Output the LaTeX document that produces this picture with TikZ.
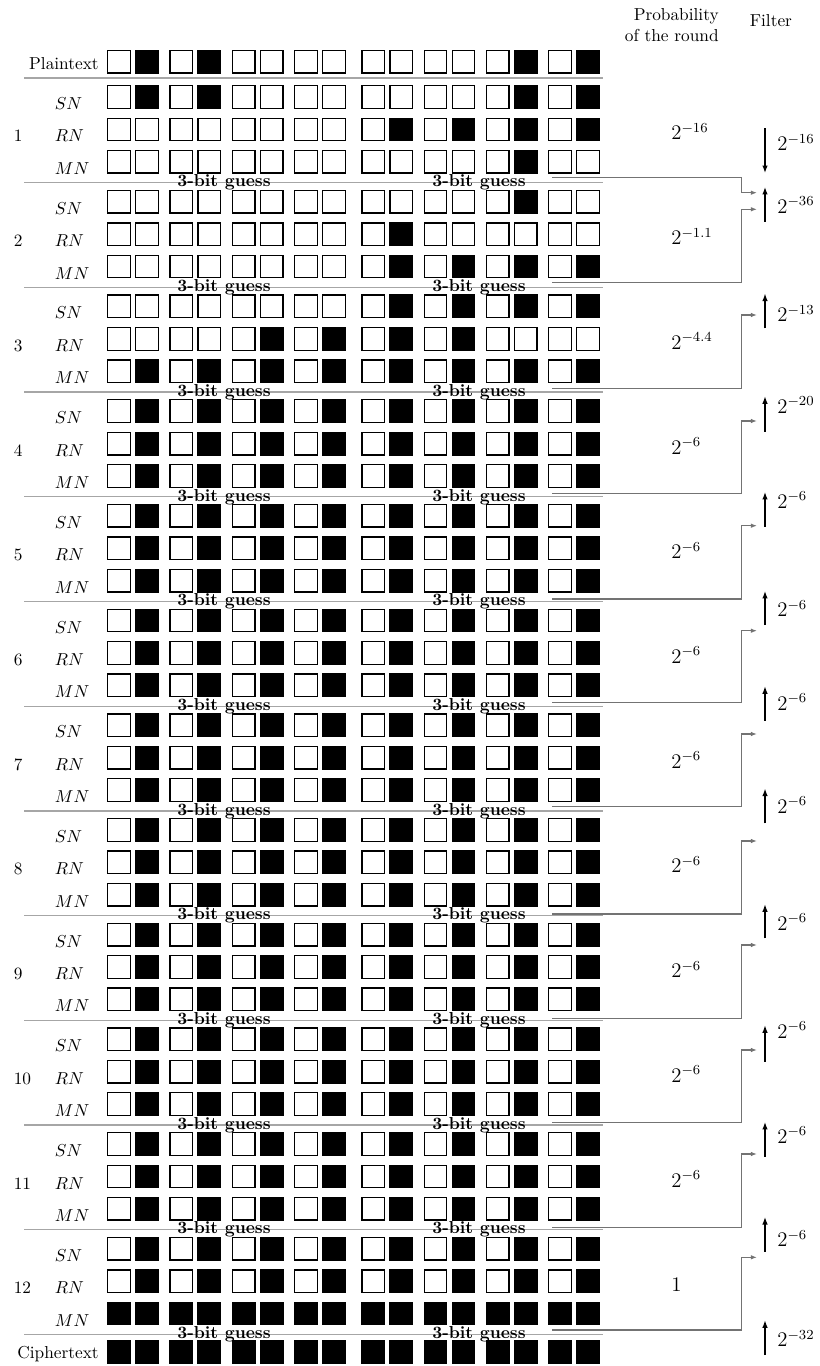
\documentclass[tikz,border=0pt]{standalone}
\usepackage{amsmath,amssymb}
\usepackage{tikz}
\usetikzlibrary{arrows.meta}

% one row of 16 bits, two groups of four pairs
\newcommand\bitrow[3]{%
  \foreach \b [count=\i from 0] in {#3}{%
    \pgfmathsetmacro\cx{119+62.3*int(\i/2)+28*mod(\i,2)+5*int(\i/8)}%
    \node[bit\b] (#1-\i) at (\cx,#2) {};
  }}

\begin{document}
\begin{tikzpicture}[
    x=0.578pt, y=-0.578pt,
    every node/.style={inner sep=0pt},
    bit0/.style={draw=black, line width=0.75pt, fill=white, minimum width=13.1pt, minimum height=13.1pt},
    bit1/.style={bit0, fill=black},
    sepline/.style={black!35, line width=0.7pt},
    guess/.style={font=\bfseries},
    val/.style={font=\large, anchor=base west},
    filt/.style={-{Latex[length=4.5pt,width=3.2pt]}, line width=1.1pt},
    gline/.style={-{Latex[length=3.5pt,width=2.6pt]}, black!55, line width=0.75pt}
  ]
    \useasboundingbox (0,0) rectangle (819,1366);

    % header
    \node[anchor=north east, align=right] (prob) at (719,8.5) {Probability\\of the round};
    \node[anchor=base west] (filter) at (749.5,27) {Filter};

    % plaintext / ciphertext
    \node[anchor=base east] (ptl) at (99,69.5) {Plaintext};
    \bitrow{pt}{61.7}{0,1,0,1,0,0,0,0,0,0,0,0,0,1,0,1}
    \draw[sepline] (24,78) -- (603,78);
    \node[anchor=base east] (ctl) at (99,1358.5) {Ciphertext};
    \bitrow{ct}{1351.7}{1,1,1,1,1,1,1,1,1,1,1,1,1,1,1,1}

    % rounds 1-3
    \bitrow{r1-sn}{97}{0,1,0,1,0,0,0,0,0,0,0,0,0,1,0,1}
    \bitrow{r1-rn}{129.5}{0,0,0,0,0,0,0,0,0,1,0,1,0,1,0,1}
    \bitrow{r1-mn}{161.8}{0,0,0,0,0,0,0,0,0,0,0,0,0,1,0,0}
    \bitrow{r2-sn}{201.7}{0,0,0,0,0,0,0,0,0,0,0,0,0,1,0,0}
    \bitrow{r2-rn}{234.2}{0,0,0,0,0,0,0,0,0,1,0,0,0,0,0,0}
    \bitrow{r2-mn}{266.5}{0,0,0,0,0,0,0,0,0,1,0,1,0,1,0,1}
    \bitrow{r3-sn}{306.4}{0,0,0,0,0,0,0,0,0,1,0,1,0,1,0,1}
    \bitrow{r3-rn}{338.9}{0,0,0,0,0,1,0,1,0,1,0,1,0,0,0,0}
    \bitrow{r3-mn}{371.2}{0,1,0,1,0,1,0,1,0,1,0,1,0,1,0,1}

    % rounds 4-11
    \foreach \r in {4,...,11}{
      \pgfmathsetmacro\ys{97+(\r-1)*104.7}
      \pgfmathsetmacro\yr{\ys+32.5}
      \pgfmathsetmacro\ym{\ys+64.8}
      \bitrow{r\r-sn}{\ys}{0,1,0,1,0,1,0,1,0,1,0,1,0,1,0,1}
      \bitrow{r\r-rn}{\yr}{0,1,0,1,0,1,0,1,0,1,0,1,0,1,0,1}
      \bitrow{r\r-mn}{\ym}{0,1,0,1,0,1,0,1,0,1,0,1,0,1,0,1}
    }

    % round 12
    \bitrow{r12-sn}{1248.7}{0,1,0,1,0,1,0,1,0,1,0,1,0,1,0,1}
    \bitrow{r12-rn}{1281.2}{0,1,0,1,0,1,0,1,0,1,0,1,0,1,0,1}
    \bitrow{r12-mn}{1313.5}{1,1,1,1,1,1,1,1,1,1,1,1,1,1,1,1}

    % labels, separators, guesses
    \foreach \r in {1,...,12}{
      \pgfmathsetmacro\ys{97+(\r-1)*104.7}
      \pgfmathsetmacro\yline{78+\r*104.7}
      \node[anchor=base west] (sn\r) at (54.5,\ys+12.5) {$SN$};
      \node[anchor=base west] (rn\r) at (54.5,\ys+45) {$RN$};
      \node[anchor=base west] (mn\r) at (54.5,\ys+77.3) {$MN$};
      \node[anchor=base west] (rd\r) at (13.5,\ys+45) {\r};
      \draw[sepline] (24,\yline) -- (603,\yline);
      \node[guess] (ga\r) at (224,\yline) {3-bit guess};
      \node[guess] (gb\r) at (479,\yline) {3-bit guess};
    }

    % probability of each round
    \foreach \r/\p in {1/2^{-16},2/2^{-1.1},3/2^{-4.4},4/2^{-6},5/2^{-6},6/2^{-6},
                       7/2^{-6},8/2^{-6},9/2^{-6},10/2^{-6},11/2^{-6},12/1}{
      \pgfmathsetmacro\yp{97+(\r-1)*104.7+43}
      \node[val] (pr\r) at (671,\yp) {$\p$};
    }

    % filters
    \coordinate (ft1) at (765,128.3);
    \coordinate (fb1) at (765,173.3);
    \draw[filt] (ft1) -- (fb1);
    \node[val] (fv1) at (777,151) {$2^{-16}$};
    \foreach \k/\yt/\yb/\yl/\v in {2/186.7/221.7/213.3/-36, 3/293.3/328.3/321.7/-13,
        4/396/431.7/413.3/-20, 5/491.7/526.7/508.3/-6, 6/590.7/625/616.7/-6,
        7/686/720.7/710/-6, 8/788.3/823.3/813.3/-6, 9/904/938.3/930/-6,
        10/1025/1061.7/1038.3/-6, 11/1121.7/1156.7/1143.3/-6,
        12/1216.7/1251.7/1246.7/-6, 13/1320/1355/1346.7/-32}{
      \coordinate (ft\k) at (765,\yt);
      \coordinate (fb\k) at (765,\yb);
      \draw[filt] (fb\k) -- (ft\k);
      \node[val] (fv\k) at (777,\yl) {$2^{\v}$};
    }

    % guesses feed the filters
    \coordinate (bend) at (741.7,0);
    \foreach \k/\ys/\ye in {1/177.7/192.7, 2/282.7/209.3, 3/388.3/315, 4/493.3/421,
        5/599/525.7, 6/702.7/630.7, 7/806.7/734, 8/914/841, 9/1018.3/945,
        10/1122.7/1050, 11/1227.7/1154, 12/1330/1257.3}{
      \coordinate (g\k) at (552,\ys);
      \coordinate (t\k) at (757,\ye);
      \draw[gline] (g\k) -- (g\k -| bend) |- (t\k);
    }
  \end{tikzpicture}
\end{document}
